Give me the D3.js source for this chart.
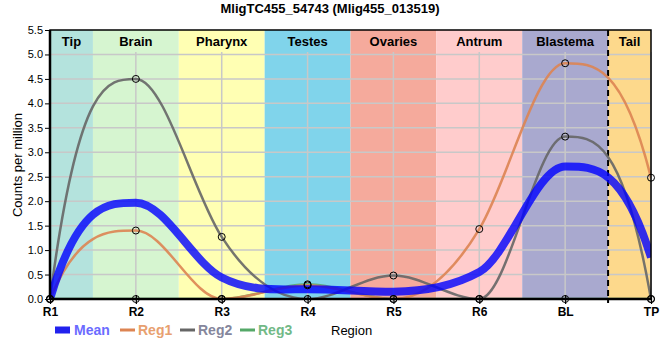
<!DOCTYPE html>
<html><head><meta charset="utf-8">
<script src="https://cdn.jsdelivr.net/npm/d3@7"></script>
<style>body{margin:0;background:#fff}svg{display:block;font-family:"Liberation Sans",Arial,sans-serif}</style>
</head><body><svg id="c" width="660" height="360"></svg>
<script>
const categories = ["R1","R2","R3","R4","R5","R6","BL","TP"];
const regions = ["Tip","Brain","Pharynx","Testes","Ovaries","Antrum","Blastema","Tail"];
const regionColors = ["#b4e3dd","#d6f5d0","#ffffb3","#80d4eb","#f5aa9c","#ffcccc","#a9a9cf","#fdd98c"];
const yTicks = [0,0.5,1,1.5,2,2.5,3,3.5,4,4.5,5,5.5];
const mean = [0, 1.97, 0.44, 0.2, 0.15, 0.55, 2.71, 0.85];
const reg1 = [0, 1.4, 0, 0.28, 0, 1.43, 4.82, 2.48];
const reg2 = [0, 4.5, 1.27, 0, 0.48, 0, 3.32, 0];
const reg3 = [0, 0, 0, 0.3, 0, 0, 0, 0];
const seriesNames = ["Mean","Reg1","Reg2","Reg3"];

const svg = d3.select("#c");
const L=50,R=651,T=30,B=299;
const x = d3.scalePoint().domain(categories).range([L,R]);
const y = d3.scaleLinear().domain([0,5.5]).range([B,T]);

// tangents (value per category step): flat at extremes, scaled averaged secants elsewhere
function tangents(v){
  const n=v.length, s=[], m=new Array(n).fill(0);
  for(let i=0;i<n-1;i++) s.push(v[i+1]-v[i]);
  for(let i=1;i<n-1;i++){
    if(s[i-1]*s[i] <= 0) m[i]=0;
    else { const a=1.2*(s[i-1]+s[i])/2, lim=3*Math.min(Math.abs(s[i-1]),Math.abs(s[i])); m[i]=Math.sign(a)*Math.min(Math.abs(a),lim); }
  }
  m[0] = 3*s[0]-2*m[1];
  m[n-1] = 3*s[n-2]-2*m[n-2];
  return m;
}
function hermitePath(v,m){
  const p=d3.path();
  p.moveTo(x(categories[0]), y(v[0]));
  for(let i=0;i<v.length-1;i++){
    const x0=x(categories[i]), x1=x(categories[i+1]), h=x1-x0;
    p.bezierCurveTo(x0+h/3, y(v[i]+m[i]/3), x1-h/3, y(v[i+1]-m[i+1]/3), x1, y(v[i+1]));
  }
  return p.toString();
}
const m1=tangents(reg1), m2=tangents(reg2), m3=tangents(reg3);
const mMean = m1.map((d,i)=>(d+m2[i]+m3[i])/3);

// bands
const edges = [L];
for(let i=0;i<categories.length-1;i++) edges.push((x(categories[i])+x(categories[i+1]))/2);
edges.push(R);
regions.forEach((r,i)=>{
  svg.append("rect").attr("x",edges[i]).attr("y",T).attr("width",edges[i+1]-edges[i]).attr("height",B-T).attr("fill",regionColors[i]);
  svg.append("text").attr("x",(edges[i]+edges[i+1])/2).attr("y",T+16).attr("text-anchor","middle")
    .attr("font-size",13).attr("font-weight","bold").attr("fill","#000").text(r);
});

// grid
const grid = svg.append("g").attr("stroke","#c8c8c8").attr("stroke-width",1.5);
yTicks.forEach(t=>{ if(t>0&&t<5.5) grid.append("line").attr("x1",L).attr("x2",R).attr("y1",y(t)).attr("y2",y(t)); });
categories.forEach(c=>{ grid.append("line").attr("x1",x(c)).attr("x2",x(c)).attr("y1",T+22).attr("y2",B); });

// dashed separator
svg.append("line").attr("x1",edges[7]).attr("x2",edges[7]).attr("y1",T).attr("y2",B+4)
  .attr("stroke","#000").attr("stroke-width",2).attr("stroke-dasharray","6,4");

// lines
svg.append("defs").append("clipPath").attr("id","clip").append("rect").attr("x",L).attr("y",T).attr("width",R-L).attr("height",B-T);
const lg = svg.append("g").attr("clip-path","url(#clip)").attr("fill","none");
lg.append("path").attr("d",hermitePath(reg3,m3)).attr("stroke","#55a868").attr("stroke-width",2.5).attr("stroke-opacity",0.85);
lg.append("path").attr("d",hermitePath(reg1,m1)).attr("stroke","#dd8452").attr("stroke-width",2.5).attr("stroke-opacity",0.9);
lg.append("path").attr("d",hermitePath(reg2,m2)).attr("stroke","#666666").attr("stroke-width",2.5).attr("stroke-opacity",0.9);
lg.append("path").attr("d",hermitePath(mean,mMean)).attr("stroke","#0000ff").attr("stroke-width",8).attr("stroke-opacity",0.8);

// frame
svg.append("rect").attr("x",L).attr("y",T).attr("width",R-L).attr("height",B-T).attr("fill","none").attr("stroke","#000").attr("stroke-width",1.5);
svg.append("line").attr("x1",L).attr("x2",L).attr("y1",T).attr("y2",B+1).attr("stroke","#000").attr("stroke-width",2.5);
svg.append("line").attr("x1",L).attr("x2",R).attr("y1",B).attr("y2",B).attr("stroke","#000").attr("stroke-width",2.5);

// axes
const yAxis = svg.append("g").attr("transform",`translate(${L},0)`).call(d3.axisLeft(y).tickValues(yTicks).tickFormat(d3.format(".1f")).tickSize(5).tickPadding(2));
yAxis.select(".domain").remove();
yAxis.selectAll("text").attr("font-size",11).attr("fill","#000").attr("font-family","Liberation Sans, Arial, sans-serif");
const xAxis = svg.append("g").attr("transform",`translate(0,${B})`).call(d3.axisBottom(x).tickSize(5).tickPadding(3));
xAxis.select(".domain").remove();
xAxis.selectAll("line").attr("y1",-4).attr("stroke-width",1.2);
xAxis.selectAll("text").attr("font-size",12).attr("font-weight","bold").attr("fill","#000").attr("font-family","Liberation Sans, Arial, sans-serif");

// markers
const mg = svg.append("g").attr("fill","none").attr("stroke","#000").attr("stroke-width",1);
[reg1,reg2,reg3].forEach(s=>{
  s.forEach((v,i)=>{ mg.append("circle").attr("cx",x(categories[i])).attr("cy",y(v)).attr("r",3.5); });
});

// titles
svg.append("text").attr("x",330).attr("y",13).attr("text-anchor","middle").attr("font-size",13).attr("font-weight","bold").text("MligTC455_54743 (Mlig455_013519)");
svg.append("text").attr("transform","translate(22,165) rotate(-90)").attr("text-anchor","middle").attr("font-size",13).text("Counts per million");

// legend
const ly = 330;
svg.append("rect").attr("x",55).attr("y",ly-3.5).attr("width",15).attr("height",7).attr("fill","#2222ee");
svg.append("text").attr("x",74).attr("y",ly+5).attr("font-size",14).attr("font-weight","bold").attr("fill","#6b6bff").text(seriesNames[0]);
const legItems = [[120,"#dd8452","#e8a070",seriesNames[1]],[180,"#666666","#85869c",seriesNames[2]],[240,"#55a868","#72b987",seriesNames[3]]];
legItems.forEach(([lx,lc,tc,name])=>{
  svg.append("line").attr("x1",lx).attr("x2",lx+15).attr("y1",ly).attr("y2",ly).attr("stroke",lc).attr("stroke-width",3);
  svg.append("text").attr("x",lx+18).attr("y",ly+5).attr("font-size",14).attr("font-weight","bold").attr("fill",tc).text(name);
});
svg.append("text").attr("x",331).attr("y",ly+5).attr("font-size",13).attr("fill","#000").text("Region");
</script></body></html>
